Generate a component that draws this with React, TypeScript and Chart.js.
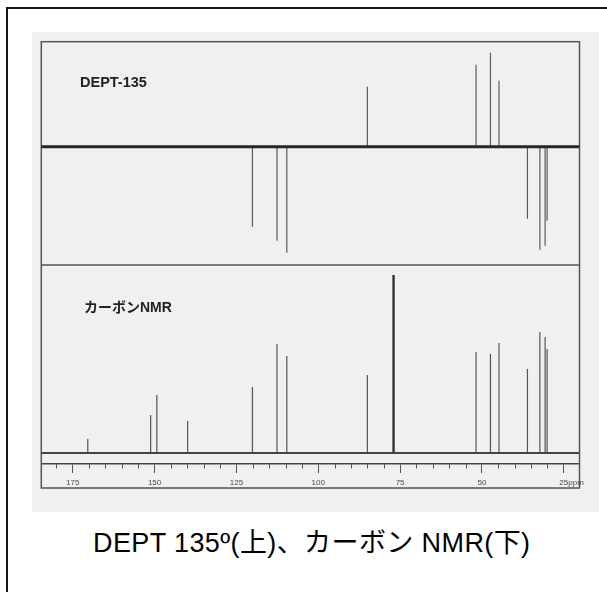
import React, { useEffect, useRef } from "react";
import { Chart, registerables } from "chart.js";

Chart.register(...registerables);

// ---- data (ppm / intensity) ----
const carbonShifts = [170.4, 151.2, 149.3, 139.9, 120.1, 112.6, 109.6, 85.0, 77.0, 51.8, 47.4, 44.8, 36.1, 32.3, 30.7, 30.1];
const carbonHeights = [14, 38, 58, 32, 66, 109, 97, 78, 178, 101, 99, 110, 84, 121, 116, 104];
const deptShifts = [120.1, 112.6, 109.6, 85.0, 51.8, 47.4, 44.8, 36.1, 32.3, 30.7, 30.1];
const deptValues = [-80, -94, -106, 60, 82, 94, 66, -72, -103, -99, -74];
const solventShift = 77.0;
const majorTicks = [175, 150, 125, 100, 75, 50, 25];
const minorTicks = [180, 170, 165, 160, 155, 145, 140, 135, 130, 120, 115, 110, 105, 95, 90, 85, 80, 70, 65, 60, 55, 45, 40, 35, 30];
const ppmMin = 20.2;
const ppmMax = 184.6;
const deptLabel = "DEPT-135";
const carbonLabel = "カーボンNMR";
const unitLabel = "ppm";
const caption = "DEPT 135º(上)、カーボン NMR(下)";

const FONT = '"Liberation Sans", Arial, "Noto Sans CJK JP", sans-serif';

function stickPoints(shifts: number[], values: number[]) {
  const pts: { x: number; y: number | null }[] = [];
  shifts.forEach((s, i) => {
    pts.push({ x: s, y: 0 }, { x: s, y: values[i] }, { x: s, y: null });
  });
  return pts;
}

const framePlugin = {
  id: "nmrFrame",
  beforeDatasetsDraw(chart: any) {
    const { ctx, chartArea } = chart;
    const xs = chart.scales.x;
    const yTop = chart.scales.yTop;
    ctx.save();
    ctx.strokeStyle = "#555";
    ctx.lineWidth = 1.5;
    ctx.strokeRect(chartArea.left, chartArea.top, chartArea.right - chartArea.left, xs.bottom - chartArea.top);
    ctx.beginPath();
    ctx.moveTo(chartArea.left, yTop.bottom);
    ctx.lineTo(chartArea.right, yTop.bottom);
    ctx.stroke();
    ctx.restore();
  },
  afterDraw(chart: any) {
    const { ctx, chartArea } = chart;
    const xs = chart.scales.x;
    const yTop = chart.scales.yTop;
    const yBot = chart.scales.yBot;
    ctx.save();
    // minor ticks
    ctx.strokeStyle = "#555";
    ctx.lineWidth = 1;
    minorTicks.forEach((v) => {
      const px = Math.round(xs.getPixelForValue(v)) + 0.5;
      ctx.beginPath();
      ctx.moveTo(px, chartArea.bottom);
      ctx.lineTo(px, chartArea.bottom + 4.5);
      ctx.stroke();
    });
    // unit after last label
    ctx.font = `8px ${FONT}`;
    ctx.fillStyle = "#4a4a4a";
    ctx.textBaseline = "middle";
    ctx.textAlign = "left";
    const last = majorTicks[majorTicks.length - 1];
    const lw = ctx.measureText(String(last)).width;
    const ly = chartArea.bottom + 9 + 4.5 + 4.8;
    ctx.fillText(unitLabel, xs.getPixelForValue(last) + lw / 2, ly);
    // panel labels
    ctx.fillStyle = "#222";
    ctx.font = `bold 14.5px ${FONT}`;
    ctx.fillText(deptLabel, chartArea.left + 38.7, yTop.top + 41);
    ctx.font = `bold 14px ${FONT}`;
    ctx.fillText(carbonLabel, chartArea.left + 42.7, yBot.top + 43.6);
    ctx.restore();
  },
};

function NmrChart() {
  const ref = useRef<HTMLCanvasElement | null>(null);
  useEffect(() => {
    if (!ref.current) return;
    const chart = new Chart(ref.current, {
      type: "line",
      data: {
        datasets: [
          {
            label: "DEPT baseline",
            yAxisID: "yTop",
            data: [
              { x: ppmMin, y: 0 },
              { x: ppmMax, y: 0 },
            ],
            borderColor: "#262626",
            borderWidth: 3,
            pointRadius: 0,
          },
          {
            label: "DEPT-135",
            yAxisID: "yTop",
            data: stickPoints(deptShifts, deptValues),
            borderColor: "#5a5a5a",
            borderWidth: 1.2,
            pointRadius: 0,
          },
          {
            label: "13C baseline",
            yAxisID: "yBot",
            data: [
              { x: ppmMin, y: 0 },
              { x: ppmMax, y: 0 },
            ],
            borderColor: "#444",
            borderWidth: 1.8,
            pointRadius: 0,
          },
          {
            label: "13C",
            yAxisID: "yBot",
            data: stickPoints(carbonShifts, carbonHeights),
            borderColor: "#555",
            borderWidth: 1.2,
            pointRadius: 0,
            segment: {
              borderWidth: (c: any) => (c.p0.parsed.x === solventShift ? 2.4 : undefined),
              borderColor: (c: any) => (c.p0.parsed.x === solventShift ? "#333" : undefined),
            },
          } as any,
        ],
      },
      options: {
        animation: false,
        responsive: false,
        devicePixelRatio: 1,
        events: [],
        layout: { padding: { left: 9.3, right: 19.5, top: 9.7, bottom: 24 } },
        plugins: { legend: { display: false }, tooltip: { enabled: false }, title: { display: false } },
        scales: {
          x: {
            type: "linear",
            reverse: true,
            min: ppmMin,
            max: ppmMax,
            position: "bottom",
            afterBuildTicks: (s: any) => {
              s.ticks = majorTicks.map((v) => ({ value: v }));
            },
            afterFit: (s: any) => {
              s.height = 24;
            },
            grid: { drawOnChartArea: false, drawTicks: true, tickLength: 9, tickColor: "#555", tickWidth: 1 },
            border: { display: true, color: "#444", width: 1.5 },
            ticks: {
              autoSkip: false,
              maxRotation: 0,
              padding: 4.5,
              color: "#4a4a4a",
              font: { size: 8, family: FONT },
              callback: (v: any) => String(v),
            },
          },
          yTop: {
            type: "linear",
            position: "left",
            stack: "nmr",
            stackWeight: 223.3,
            weight: 2,
            min: -118.3,
            max: 105,
            display: false,
          },
          yBot: {
            type: "linear",
            position: "left",
            stack: "nmr",
            stackWeight: 199,
            weight: 1,
            min: -11,
            max: 188,
            display: false,
          },
        } as any,
      },
      plugins: [framePlugin],
    });
    return () => chart.destroy();
  }, []);
  return (
    <canvas
      ref={ref}
      width={567}
      height={480}
      style={{ position: "absolute", left: 32, top: 32, width: 567, height: 480, background: "#f0f0f0" }}
    />
  );
}

export default function App() {
  return (
    <div style={{ position: "absolute", left: 0, top: 0, width: 607, height: 592, overflow: "hidden", background: "#fff" }}>
      <div
        style={{
          position: "absolute",
          left: 6,
          top: 7,
          width: 700,
          height: 700,
          border: "2px solid #151515",
          boxSizing: "border-box",
        }}
      />
      <NmrChart />
      <div
        style={{
          position: "absolute",
          left: 93,
          top: 530,
          fontFamily: FONT,
          fontSize: 27,
          lineHeight: "27px",
          letterSpacing: "0.4px",
          whiteSpace: "nowrap",
          color: "#000",
        }}
      >
        {caption}
      </div>
    </div>
  );
}
